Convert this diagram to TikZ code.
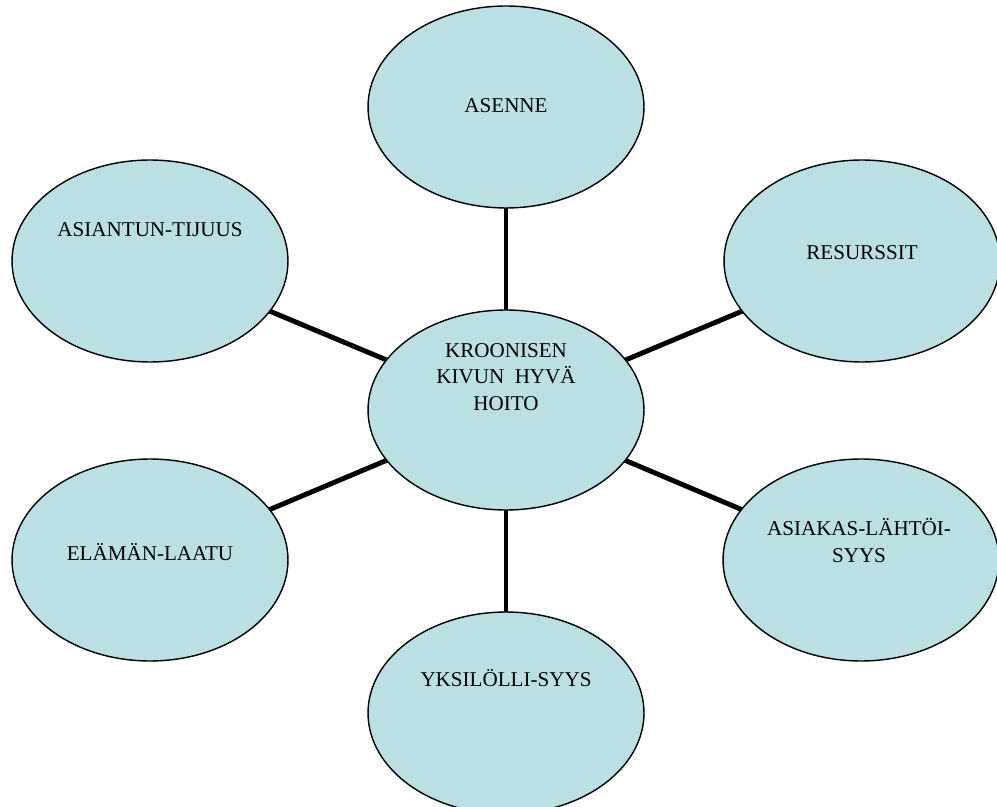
\documentclass[tikz,border=0pt]{standalone}
\usepackage{fontspec}
\setmainfont{Liberation Serif}
\usetikzlibrary{shapes.geometric, positioning, backgrounds}
\definecolor{bubblefill}{RGB}{186,224,228}

\begin{document}
\begin{tikzpicture}[
  x=0.02cm, y=-0.02cm,
  bubble/.style = {ellipse, draw=black, line width=0.8pt, fill=bubblefill,
                   minimum width=5.52cm, minimum height=4.04cm, inner sep=0pt},
  lbl/.style    = {align=center, font=\fontsize{12}{15}\selectfont,
                   inner sep=0pt, anchor=base},
  spoke/.style  = {line width=2.8pt, color=black},
]
\useasboundingbox (0,0) rectangle (997,807);

%% Bubbles
\node[bubble, minimum height=4cm] (core) at (506,410) {};
\node[bubble] (asenne)    at (506,107) {};
\node[bubble] (asiantun)  at (150,261) {};
\node[bubble] (resurssit) at (862,261) {};
\node[bubble] (elama)     at (150,560) {};
\node[bubble] (asiakas)   at (861,560) {};
\node[bubble] (yksilo)    at (506,713) {};

%% Labels (base = last line)
\node[lbl] (coreT)      at (506,410) {KROONISEN\\KIVUN~~HYVÄ\\HOITO};
\node[lbl] (asenneT)    at (506,113) {ASENNE};
\node[lbl] (asiantunT)  at (150,237) {ASIANTUN-TIJUUS};
\node[lbl] (resurssitT) at (862,260) {RESURSSIT};
\node[lbl] (elamaT)     at (150,560) {ELÄMÄN-LAATU};
\node[lbl] (asiakasT)   at (859,562) {ASIAKAS-LÄHTÖI-\\SYYS};
\node[lbl] (yksiloT)    at (506,686) {YKSILÖLLI-SYYS};

%% Spokes from the core
\begin{scope}[on background layer]
\foreach \n in {asenne, asiantun, resurssit, elama, asiakas, yksilo} {
  \draw[spoke] (core.center) -- (\n.center);
}
\end{scope}

\end{tikzpicture}
\end{document}
